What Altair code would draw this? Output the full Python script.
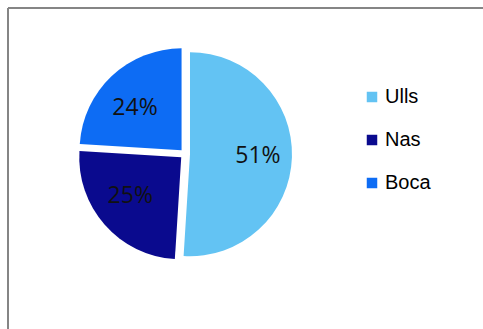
import altair as alt
import pandas as pd

categories = ["Ulls", "Nas", "Boca"]
values = [51, 25, 24]
labels = ["51%", "25%", "24%"]
colors = ["#63C3F3", "#0A0A8E", "#0D6CF4"]

df = pd.DataFrame({"cat": categories, "val": values, "lab": labels,
                   "order": [0, 1, 2]})

W, H = 475, 321
cx, cy = 177, 146
explode = 5
label_rx, label_ry = 73, 63

base = alt.Chart(df).transform_joinaggregate(
    total="sum(val)"
).transform_window(
    cum="sum(val)", sort=[alt.SortField("order")]
).transform_calculate(
    mid="2*PI*(datum.cum - datum.val/2)/datum.total",
)

arcs = base.transform_calculate(
    px=f"{cx} + {explode}*sin(datum.mid)",
    py=f"{cy} - {explode}*cos(datum.mid)",
).mark_arc(outerRadius=102).encode(
    theta=alt.Theta("val:Q", stack=True),
    order=alt.Order("order:Q"),
    x=alt.X("px:Q", scale=None),
    y=alt.Y("py:Q", scale=None),
    color=alt.Color(
        "cat:N",
        scale=alt.Scale(domain=categories, range=colors),
        sort=categories,
        legend=alt.Legend(
            title=None,
            orient="none",
            legendX=354,
            legendY=79,
            symbolType="square",
            symbolSize=110,
            symbolStrokeWidth=0,
            labelFont="Liberation Sans",
            labelFontSize=20,
            labelColor="#000000",
            rowPadding=23,
            labelOffset=3,
        ),
    ),
)

text = base.transform_calculate(
    tx=f"{cx} + {label_rx}*sin(datum.mid)",
    ty=f"{cy} - {label_ry}*cos(datum.mid)",
).mark_text(font="Open Sans", fontSize=23, color="#111111").encode(
    x=alt.X("tx:Q", scale=None),
    y=alt.Y("ty:Q", scale=None),
    text="lab:N",
)

frame_df = pd.DataFrame({"side": ["top", "left"]})
top_rule = alt.Chart(frame_df).transform_filter("datum.side == 'top'").mark_rule(
    color="#858585", strokeWidth=2).encode(
    x=alt.value(0), x2=alt.value(W), y=alt.value(0))
left_rule = alt.Chart(frame_df).transform_filter("datum.side == 'left'").mark_rule(
    color="#858585", strokeWidth=2).encode(
    x=alt.value(0), y=alt.value(0), y2=alt.value(H))

chart = (top_rule + left_rule + arcs + text).properties(
    width=W, height=H,
    padding={"left": 8, "top": 8, "right": 0, "bottom": 0},
    autosize=alt.AutoSizeParams(type="none"),
    background="white",
).configure_view(stroke=None)

chart.save("out.html", embed_options={"renderer": "svg", "actions": False})
